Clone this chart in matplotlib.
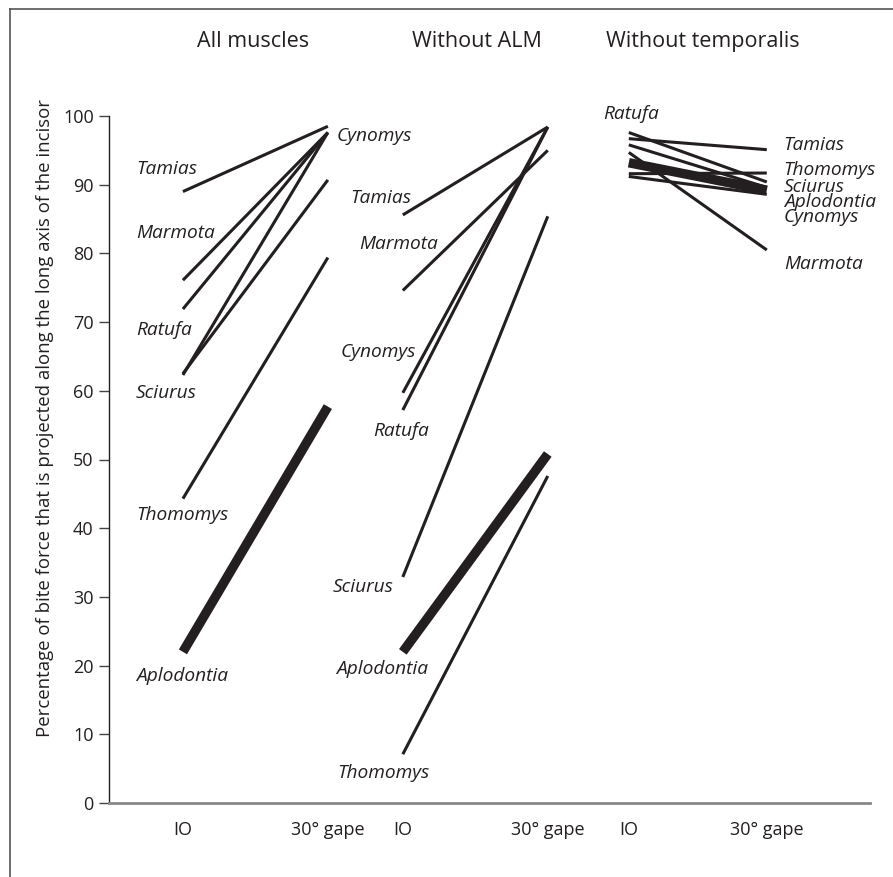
import numpy as np
import matplotlib
matplotlib.use("Agg")
from matplotlib import pyplot as plt
from matplotlib.lines import Line2D

plt.rcParams['font.family'] = ['Open Sans', 'DejaVu Sans']

# ---- data: % of bite force projected along the incisor axis (IO -> 30 deg gape)
panel_titles = ["All muscles", "Without ALM", "Without temporalis"]

all_species = ["Tamias", "Marmota", "Ratufa", "Sciurus", "Cynomys", "Thomomys", "Aplodontia"]
all_io = [89.0, 76.1, 71.9, 62.5, 62.3, 44.3, 22.0]
all_gape = [98.5, 97.6, 97.6, 90.7, 97.6, 79.4, 57.7]

alm_species = ["Tamias", "Marmota", "Cynomys", "Ratufa", "Sciurus", "Aplodontia", "Thomomys"]
alm_io = [85.6, 74.6, 59.7, 57.2, 32.9, 22.0, 7.1]
alm_gape = [98.4, 95.0, 98.4, 98.4, 85.4, 50.8, 47.6]

temp_species = ["Ratufa", "Tamias", "Sciurus", "Marmota", "Aplodontia", "Thomomys", "Cynomys"]
temp_io = [97.6, 96.7, 95.8, 94.7, 93.2, 91.6, 91.2]
temp_gape = [90.4, 95.1, 89.6, 80.5, 89.2, 91.7, 88.6]

x_ticklabels = ["IO", "IO", "IO", "30° gape", "30° gape", "30° gape"]

# ---- layout
io_pos = [0.0, 1.517, 3.076]
gape_pos = [1.0, 2.517, 4.028]
title_x = [0.483, 2.028, 3.586]
thick = "Aplodontia"
ink = "#231f20"

# label placement (x, y) for each panel
lab1 = {"Tamias": (-0.324, 92.3), "Marmota": (-0.324, 83.0), "Ratufa": (-0.324, 68.9),
        "Sciurus": (-0.324, 59.7), "Thomomys": (-0.324, 41.9), "Aplodontia": (-0.324, 18.5),
        "Cynomys": (1.062, 97.1)}
lab2 = {"Tamias": (1.152, 88.1), "Marmota": (1.214, 81.4), "Cynomys": (1.090, 65.6),
        "Ratufa": (1.310, 54.1), "Sciurus": (1.034, 31.4), "Aplodontia": (1.055, 19.5),
        "Thomomys": (1.062, 4.4)}
lab3 = {"Ratufa": (2.897, 100.3), "Tamias": (4.145, 95.8), "Thomomys": (4.145, 92.2),
        "Sciurus": (4.145, 89.6), "Aplodontia": (4.145, 87.5), "Cynomys": (4.145, 85.3),
        "Marmota": (4.145, 78.4)}

W, H = 893, 877
fig = plt.figure(figsize=(W / 100, H / 100), dpi=100)
ax = fig.add_axes([109 / W, (H - 803) / H, (870 - 109) / W, (803 - 116) / H])

panels = [(all_species, all_io, all_gape, lab1),
          (alm_species, alm_io, alm_gape, lab2),
          (temp_species, temp_io, temp_gape, lab3)]

for i, (names, io, gape, labs) in enumerate(panels):
    for name, a, b in zip(names, io, gape):
        lw = 6.8 if name == thick else 2.2
        ax.plot([io_pos[i], gape_pos[i]], [a, b], color=ink, lw=lw,
                solid_capstyle="butt", clip_on=False)
    for name, (lx, ly) in labs.items():
        ax.text(lx, ly, name, style="italic", fontsize=13.8, ha="left", va="center",
                color=ink, clip_on=False)
    ax.text(title_x[i], 110.8, panel_titles[i], fontsize=15.5, ha="center", va="center",
            color=ink, clip_on=False)

ax.set_xlim(-0.51, 4.74)
ax.set_ylim(0, 100)
ax.set_yticks(np.arange(0, 101, 10))
ax.set_xticks(io_pos + gape_pos)
ax.set_xticklabels(x_ticklabels)
ax.tick_params(axis="x", length=0, pad=13, labelsize=13, labelcolor=ink)
ax.tick_params(axis="y", length=7, width=1.0, color="#444444", pad=4,
               labelsize=13, labelcolor=ink)
for s in ["top", "right"]:
    ax.spines[s].set_visible(False)
ax.spines["left"].set_color(ink)
ax.spines["left"].set_linewidth(1.0)
ax.spines["bottom"].set_color("#888888")
ax.spines["bottom"].set_linewidth(2.0)
ax.patch.set_alpha(0)

fig.text(45 / W, 1 - 418 / H,
         "Percentage of bite force that is projected along the long axis of the incisor",
         rotation=90, ha="center", va="center", fontsize=13.4, color=ink)

# partial frame around the figure
fig.add_artist(Line2D([10 / W, 10 / W], [0, 1 - 9 / H], transform=fig.transFigure,
                      color="#555555", lw=1.2))
fig.add_artist(Line2D([10 / W, 1], [1 - 9 / H, 1 - 9 / H], transform=fig.transFigure,
                      color="#555555", lw=1.2))

fig.savefig("out.png", dpi=100)
